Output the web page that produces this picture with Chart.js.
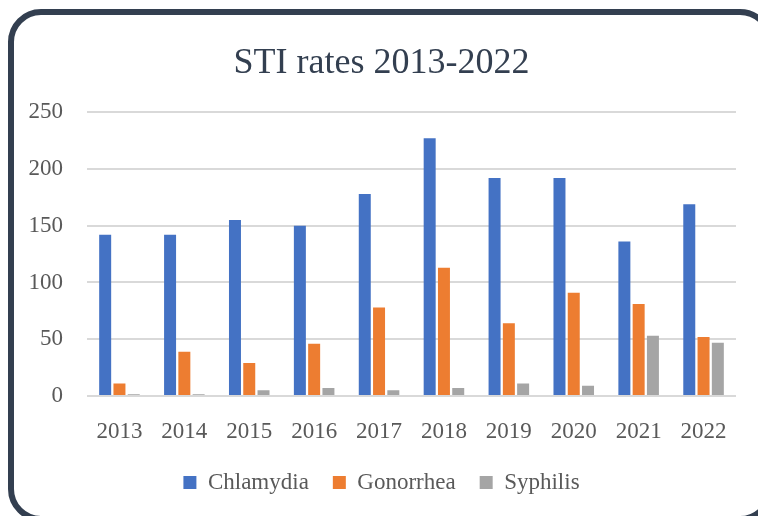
<!DOCTYPE html>
<html>
<head>
<meta charset="utf-8">
<script src="https://cdn.jsdelivr.net/npm/chart.js@4/dist/chart.umd.min.js"></script>
<style>
  html, body { margin: 0; padding: 0; background: #ffffff; }
  #stiChart { display: block; }
</style>
</head>
<body>
<canvas id="stiChart" width="758" height="516"></canvas>
<script>
// chart data
const years = ["2013", "2014", "2015", "2016", "2017", "2018", "2019", "2020", "2021", "2022"];
const chlamydia = [142, 142, 155, 150, 178, 227, 192, 192, 136, 169];
const gonorrhea = [11, 39, 29, 46, 78, 113, 64, 91, 81, 52];
const syphilis = [1.5, 1.5, 5, 7, 5, 7, 11, 9, 53, 47];
const yTicks = [0, 50, 100, 150, 200, 250];

const serif = "'Liberation Serif', 'Times New Roman', serif";

// rounded frame around the whole chart
const framePlugin = {
    id: "frame",
    afterDraw(chart) {
        const ctx = chart.ctx;
        ctx.save();
        ctx.lineWidth = 6;
        ctx.strokeStyle = "#333f50";
        ctx.beginPath();
        ctx.roundRect(11, 12, 759, 507, 30);
        ctx.stroke();
        ctx.restore();
    }
};

let ctx = document.getElementById("stiChart");
let myChart = new Chart(ctx, {
    type: "bar",
    data: {
        labels: years,
        datasets: [
            { label: "Chlamydia", data: chlamydia, backgroundColor: "#4472c4" },
            { label: "Gonorrhea", data: gonorrhea, backgroundColor: "#ed7d31" },
            { label: "Syphilis", data: syphilis, backgroundColor: "#a5a5a5" }
        ]
    },
    options: {
        responsive: false,
        animation: false,
        devicePixelRatio: 1,
        layout: { padding: { left: 27, right: 22, top: 0, bottom: 12 } },
        datasets: {
            bar: { categoryPercentage: 0.66, barPercentage: 0.84 }
        },
        plugins: {
            title: {
                display: true,
                text: "STI rates 2013-2022",
                color: "#333f50",
                font: { family: serif, size: 36, weight: "normal" },
                padding: { top: 42, bottom: 27 }
            },
            legend: {
                position: "bottom",
                labels: {
                    color: "#595959",
                    font: { family: serif, size: 23 },
                    boxWidth: 13,
                    boxHeight: 13,
                    padding: 24
                }
            },
            tooltip: { enabled: false }
        },
        scales: {
            x: {
                grid: { display: false },
                border: { display: false },
                ticks: {
                    color: "#595959",
                    font: { family: serif, size: 23 },
                    padding: 14,
                    maxRotation: 0
                },
                afterFit(scale) {
                    scale.height = 51;
                }
            },
            y: {
                min: 0,
                max: 250,
                afterBuildTicks(axis) {
                    axis.ticks = yTicks.map(v => ({ value: v }));
                },
                grid: { color: "#d9d9d9", lineWidth: 2, drawTicks: false },
                border: { display: false },
                ticks: {
                    color: "#595959",
                    font: { family: serif, size: 23 },
                    padding: 24
                },
                afterFit(scale) {
                    scale.width = 60;
                }
            }
        }
    },
    plugins: [framePlugin]
});
</script>
</body>
</html>
